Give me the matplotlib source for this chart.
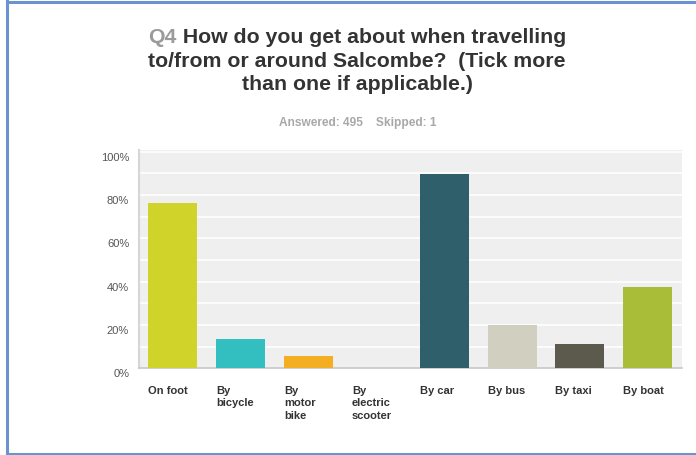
import matplotlib
matplotlib.use('Agg')
from matplotlib import pyplot as plt
from matplotlib.lines import Line2D
from matplotlib.ticker import FixedLocator
import matplotlib.transforms as mtransforms
import numpy as np

plt.rcParams['font.family'] = ['Liberation Sans', 'DejaVu Sans']

categories = ['On foot', 'By\nbicycle', 'By\nmotor\nbike', 'By\nelectric\nscooter',
              'By car', 'By bus', 'By taxi', 'By boat']
values = [76.4, 13.5, 5.7, 0.0, 89.5, 19.8, 11.3, 37.4]
colors = ['#cfd32a', '#33bec0', '#f4ae22', '#8e8e8e',
          '#2e5f6b', '#d0cfc0', '#5b5a4c', '#a9bd38']
y_ticks = [0, 20, 40, 60, 80, 100]
title_q = 'Q4'
title_lines = [' How do you get about when travelling',
               'to/from or around Salcombe?  (Tick more',
               'than one if applicable.)']
subtitle = 'Answered: 495    Skipped: 1'

W, H = 696, 456
fig = plt.figure(figsize=(W / 100, H / 100), dpi=100)
fig.patch.set_facecolor('white')

ax = fig.add_axes([138.9 / W, (H - 369.3) / H, (681.7 - 138.9) / W, (369.3 - 151) / H])
ax.set_facecolor('#efefef')

x = np.arange(len(categories))
ax.bar(x, values, width=0.72, color=colors, zorder=3)

ax.set_xlim(-0.5, len(categories) - 0.5)
ax.set_ylim(0, 100.7)
ax.yaxis.set_major_locator(FixedLocator(y_ticks))
ax.set_yticklabels([f'{v}%' for v in y_ticks], fontsize=8, color='#555555')
for v in range(10, 101, 10):
    ax.axhline(v, color='white', lw=1.1, zorder=1)

ax.set_xticks(x - 0.36)
ax.set_xticklabels(categories, fontsize=8, fontweight='bold', color='#333333',
                   ha='left', va='top', linespacing=1.3)
ax.tick_params(axis='x', length=0, pad=12)
ax.tick_params(axis='y', length=0, pad=7)

offset = mtransforms.ScaledTranslation(0, -4 / 100, fig.dpi_scale_trans)
for lab in ax.get_yticklabels():
    lab.set_transform(lab.get_transform() + offset)

for s in ['top', 'right']:
    ax.spines[s].set_visible(False)
ax.spines['left'].set_color('#d6d6d6')
ax.spines['left'].set_linewidth(1.5)
ax.spines['bottom'].set_color('#c8c8c8')
ax.spines['bottom'].set_linewidth(1.2)

# title, "Q4" in grey, the rest dark
cx = 357 / W
tsize = 15.3
t_q = fig.text(0, (H - 43) / H, title_q, fontsize=tsize, fontweight='bold',
               color='#9a9a9a', ha='left', va='baseline')
t_1 = fig.text(0, (H - 43) / H, title_lines[0], fontsize=tsize, fontweight='bold',
               color='#333333', ha='left', va='baseline')
fig.canvas.draw()
r = fig.canvas.get_renderer()
wq = t_q.get_window_extent(r).width
w1 = t_1.get_window_extent(r).width
x0 = cx * W - (wq + w1) / 2
t_q.set_x(x0 / W)
t_1.set_x((x0 + wq) / W)

for line, yb in zip(title_lines[1:], [67, 90]):
    fig.text(cx, (H - yb) / H, line, fontsize=tsize, fontweight='bold',
             color='#333333', ha='center', va='baseline')

fig.text(358 / W, (H - 126) / H, subtitle, fontsize=8.6, fontweight='bold',
         color='#a8a8a8', ha='center', va='baseline')

# frame around the picture
frame = '#6a93cf'
fig.add_artist(Line2D([6.5 / W, 6.5 / W], [0, 1], transform=fig.transFigure, color=frame, lw=2.2))
fig.add_artist(Line2D([6.5 / W, 1], [(H - 3) / H] * 2, transform=fig.transFigure, color=frame, lw=2.2))
fig.add_artist(Line2D([6.5 / W, 1], [1.2 / H] * 2, transform=fig.transFigure, color=frame, lw=2.2))

fig.savefig('out.png', dpi=100)
